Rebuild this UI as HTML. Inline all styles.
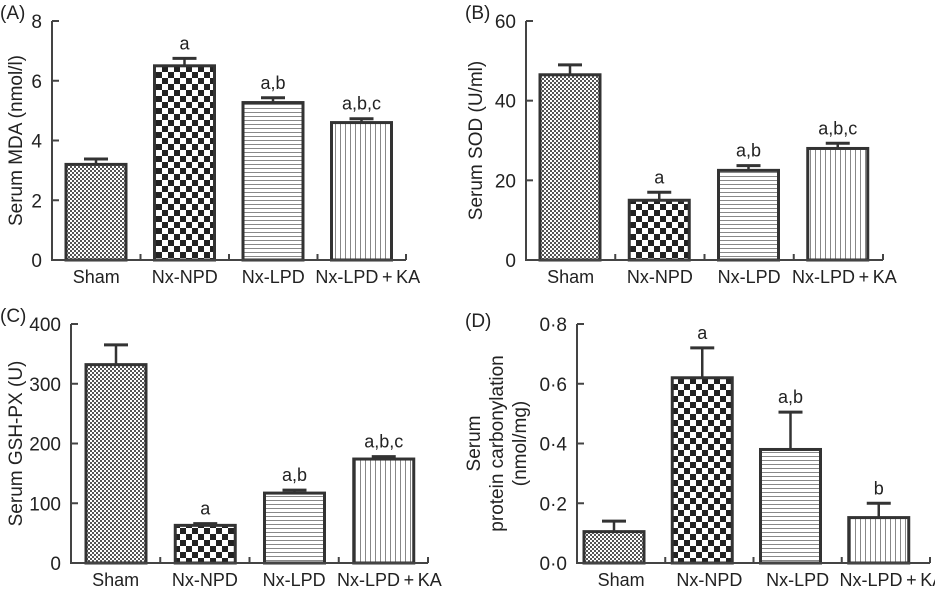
<!DOCTYPE html>
<html><head><meta charset="utf-8"><style>
body{margin:0;background:#fff}
svg{font-family:"Liberation Sans",sans-serif;fill:#222}
</style></head><body>
<svg id="fig" width="935" height="589" viewBox="0 0 935 589" xmlns="http://www.w3.org/2000/svg">
<defs>
<pattern id="pFine" width="4" height="4" patternUnits="userSpaceOnUse"><rect width="4" height="4" fill="#fff"/><rect width="2" height="2" fill="#555"/><rect x="2" y="2" width="2" height="2" fill="#555"/></pattern>
<pattern id="pCoarse" width="12" height="12" patternUnits="userSpaceOnUse"><rect width="12" height="12" fill="#fff"/><rect width="6" height="6" fill="#222"/><rect x="6" y="6" width="6" height="6" fill="#222"/></pattern>
<pattern id="pHoriz" width="8" height="4" patternUnits="userSpaceOnUse"><rect width="8" height="4" fill="#fff"/><rect y="0" width="8" height="1" fill="#888"/></pattern>
<pattern id="pVert" width="5" height="8" patternUnits="userSpaceOnUse"><rect width="5" height="8" fill="#fff"/><rect x="0" width="1" height="8" fill="#888"/></pattern>
</defs>
</svg>
<script>
const categories = ["Sham","Nx-NPD","Nx-LPD","Nx-LPD\u2009+\u2009KA"];
const mdaValues = [3.2, 6.5, 5.27, 4.6];
const mdaErrors = [0.18, 0.25, 0.16, 0.13];
const mdaLabels = ["", "a", "a,b", "a,b,c"];
const mdaTicks = ["0","2","4","6","8"];
const sodValues = [46.5, 15, 22.5, 28];
const sodErrors = [2.5, 2, 1.2, 1.3];
const sodLabels = ["", "a", "a,b", "a,b,c"];
const sodTicks = ["0","20","40","60"];
const gshValues = [332, 63, 117, 174];
const gshErrors = [33, 3, 5, 4];
const gshLabels = ["", "a", "a,b", "a,b,c"];
const gshTicks = ["0","100","200","300","400"];
const pcValues = [0.105, 0.62, 0.38, 0.152];
const pcErrors = [0.035, 0.1, 0.125, 0.048];
const pcLabels = ["", "a", "a,b", "b"];
const pcTicks = ["0·0","0·2","0·4","0·6","0·8"];

const NS = "http://www.w3.org/2000/svg";
const svg = document.getElementById('fig');
const fills = ["url(#pFine)","url(#pCoarse)","url(#pHoriz)","url(#pVert)"];
function mk(tag, attrs, parent){const e=document.createElementNS(NS,tag);for(const k in attrs)e.setAttribute(k,attrs[k]);(parent||svg).appendChild(e);return e;}

function panel(cfg){
  const g = mk('g',{});
  
  
  const {x0,x1,yTop,y0,max,values,errors,labels,ticks,offset} = cfg;
  const seg=(x1-x0)/categories.length;
  const y=v=>y0-(v/max)*(y0-yTop);
  const pl=mk('text',{x:cfg.lx,y:cfg.ly,'font-size':19},g); pl.textContent=cfg.letter;
  
  
  values.forEach((v,i)=>{
    const bx=x0+seg*i+offset, bw=60, cx=bx+bw/2;
    const ey=y(v+errors[i]);
    const el=mk('line',{x1:cx,x2:cx,y1:y(v),y2:ey,stroke:'#333','stroke-width':2.5},g);
    
    
    const ec=mk('line',{x1:cx-12,x2:cx+12,y1:ey,y2:ey,stroke:'#333','stroke-width':3},g);
    
    
    const r=mk('rect',{x:bx,y:y(v),width:bw,height:y0-y(v),fill:fills[i],stroke:'#333','stroke-width':3},g);
    
    
    if(labels[i]){const t=mk('text',{x:cx,y:ey-9,'font-size':18,'text-anchor':'middle'},g);t.textContent=labels[i];
      
      }
    const xl=mk('text',{x:x0+seg*i+seg/2+(i==3?6:0),y:y0+23,'font-size':18,'text-anchor':'middle'},g);
    xl.textContent=categories[i];
    
    
  });
  const ax=mk('path',{d:`M${x0},${yTop} V${y0} H${x1}`,fill:'none',stroke:'#444','stroke-width':2},g);
  
  
  for(let i=1;i<=categories.length;i++){mk('line',{x1:x0+seg*i,x2:x0+seg*i,y1:y0,y2:y0-6,stroke:'#444','stroke-width':2},g);}
  ticks.forEach((t,i)=>{
    const v=max*i/(ticks.length-1), ty=y(v);
    mk('line',{x1:x0,x2:x0+7,y1:ty,y2:ty,stroke:'#444','stroke-width':2},g);
    const tl=mk('text',{x:x0-10,y:ty+7,'font-size':19,'text-anchor':'end'},g);tl.textContent=t;
    
    
  });
  cfg.title.forEach((line,k)=>{
    const tt=mk('text',{x:0,y:0,'font-size':19,'text-anchor':'middle',transform:`translate(${cfg.tx+k*23},${(yTop+y0)/2}) rotate(-90)`},g);
    tt.textContent=line;
    
    
  });
}
panel({name:'panel-a-mda',letter:'(A)',lx:0,ly:19,x0:52,x1:406,yTop:21,y0:260,max:8,values:mdaValues,errors:mdaErrors,labels:mdaLabels,ticks:mdaTicks,offset:14,title:['Serum MDA (nmol/l)'],tx:22});
panel({name:'panel-b-sod',letter:'(B)',lx:465,ly:19,x0:526,x1:883,yTop:21,y0:260,max:60,values:sodValues,errors:sodErrors,labels:sodLabels,ticks:sodTicks,offset:14,title:['Serum SOD (U/ml)'],tx:482});
panel({name:'panel-c-gshpx',letter:'(C)',lx:0,ly:322,x0:71,x1:428,yTop:324,y0:563,max:400,values:gshValues,errors:gshErrors,labels:gshLabels,ticks:gshTicks,offset:15,title:['Serum GSH-PX (U)'],tx:22});
panel({name:'panel-d-carbonylation',letter:'(D)',lx:465,ly:327,x0:577,x1:930,yTop:324,y0:563,max:0.8,values:pcValues,errors:pcErrors,labels:pcLabels,ticks:pcTicks,offset:7,title:['Serum','protein carbonylation','(nmol/mg)'],tx:480});
</script>
</body></html>
